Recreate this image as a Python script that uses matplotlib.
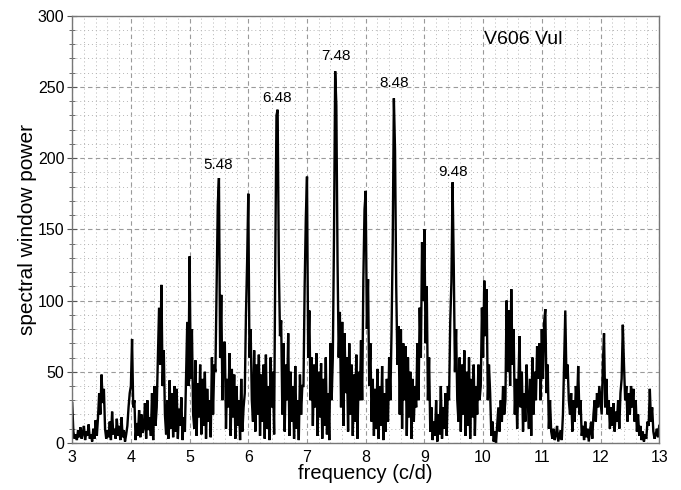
import numpy as np
import matplotlib
matplotlib.use("Agg")
import matplotlib.pyplot as plt
from matplotlib.ticker import MultipleLocator

# frequency grid start/step (c/d) and power values
freq_start = 3.0
freq_step = 0.02

power_3 = [28, 8, 3, 6, 2, 9, 4, 11, 3, 7, 12, 2, 8, 5, 13, 3, 6, 1, 10, 3,
           16, 5, 18, 35, 20, 48, 28, 38, 10, 3, 9, 4, 15, 2, 22, 6, 10, 3, 17, 5,
           12, 2, 18, 4, 9, 1, 6, 12, 25, 35]
power_4 = [40, 73, 25, 30, 2, 14, 5, 23, 4, 20, 7, 11, 28, 3, 30, 9, 18, 5, 35, 2,
           40, 12, 25, 60, 95, 55, 111, 40, 65, 20, 6, 30, 3, 44, 10, 35, 4, 40, 8, 38,
           3, 24, 12, 32, 2, 18, 8, 45, 85, 40]
power_5 = [131, 45, 80, 20, 10, 58, 5, 42, 18, 55, 6, 45, 12, 50, 3, 38, 15, 30, 4, 60,
           20, 55, 50, 110, 167, 186, 60, 104, 30, 70, 71, 10, 45, 25, 63, 5, 52, 18, 48, 3,
           40, 12, 30, 2, 45, 8, 25, 35, 90, 127]
power_6 = [175, 60, 80, 30, 15, 65, 8, 55, 20, 62, 5, 48, 15, 55, 3, 62, 10, 40, 2, 60,
           25, 50, 6, 130, 230, 234, 126, 75, 86, 20, 70, 8, 55, 30, 77, 5, 50, 15, 40, 3,
           54, 10, 30, 2, 48, 20, 40, 40, 110, 158]
power_7 = [187, 60, 93, 30, 60, 12, 55, 25, 63, 5, 50, 18, 56, 3, 45, 12, 60, 6, 35, 2,
           70, 30, 60, 145, 261, 237, 129, 60, 92, 25, 85, 12, 77, 35, 60, 8, 70, 20, 55, 5,
           48, 15, 62, 3, 50, 30, 72, 30, 115, 164]
power_8 = [177, 80, 115, 40, 70, 15, 45, 5, 38, 10, 52, 3, 40, 12, 54, 2, 35, 8, 45, 15,
           60, 30, 78, 140, 242, 205, 110, 55, 82, 20, 80, 10, 70, 30, 68, 5, 60, 18, 50, 3,
           45, 15, 40, 25, 70, 30, 95, 60, 141, 100]
power_9 = [150, 70, 110, 30, 60, 8, 25, 2, 15, 5, 30, 1, 20, 6, 40, 3, 25, 10, 35, 5,
           40, 30, 85, 113, 183, 125, 50, 80, 30, 15, 60, 8, 55, 20, 65, 5, 50, 12, 60, 3,
           45, 18, 55, 5, 40, 20, 55, 30, 40, 95]
power_10 = [60, 114, 75, 108, 30, 55, 35, 5, 15, 1, 8, 0, 12, 25, 8, 30, 15, 40, 20, 30,
            100, 50, 93, 40, 108, 55, 80, 20, 45, 10, 40, 75, 25, 50, 8, 35, 15, 55, 30, 10,
            45, 5, 60, 20, 50, 30, 68, 45, 70, 30]
power_11 = [80, 45, 85, 94, 35, 55, 10, 30, 8, 3, 10, 2, 6, 12, 1, 5, 9, 2, 20, 55,
            93, 45, 55, 30, 20, 35, 8, 30, 15, 40, 25, 54, 20, 30, 5, 12, 2, 15, 4, 10,
            1, 8, 15, 3, 20, 30, 15, 35, 25, 40]
power_12 = [30, 20, 55, 77, 25, 45, 20, 30, 10, 25, 12, 28, 8, 22, 15, 30, 10, 35, 45, 83,
            55, 30, 40, 15, 35, 20, 40, 25, 38, 15, 30, 8, 20, 5, 12, 2, 8, 1, 6, 3,
            15, 12, 38, 15, 25, 8, 3, 6, 10, 4]
power_13 = [12]

peak_labels = ["5.48", "6.48", "7.48", "8.48", "9.48"]
peak_label_x = [5.49, 6.49, 7.49, 8.49, 9.49]
peak_label_y = [195, 242, 272, 253, 190]
star_name = "V606 Vul"

power = np.array(power_3 + power_4 + power_5 + power_6 + power_7 + power_8 +
                 power_9 + power_10 + power_11 + power_12 + power_13, dtype=float)
freq = freq_start + freq_step * np.arange(len(power))

plt.rcParams['font.family'] = ['Liberation Sans', 'DejaVu Sans']

fig = plt.figure(figsize=(6.81, 4.90), dpi=100)
ax = fig.add_axes([0.106, 0.096, 0.862, 0.872])

ax.plot(freq, power, color='black', lw=1.7, solid_joinstyle='miter')

ax.set_xlim(3, 13)
ax.set_ylim(0, 300)
ax.xaxis.set_major_locator(MultipleLocator(1))
ax.xaxis.set_minor_locator(MultipleLocator(0.2))
ax.yaxis.set_major_locator(MultipleLocator(50))
ax.yaxis.set_minor_locator(MultipleLocator(10))

ax.grid(which='major', color='#9a9a9a', linestyle=(0, (4, 3)), linewidth=0.8)
ax.grid(which='minor', color='#b5b5b5', linestyle=(0, (1, 3)), linewidth=0.7)
ax.set_axisbelow(True)

for s in ax.spines.values():
    s.set_color('#777777')
    s.set_linewidth(1.0)

ax.tick_params(axis='x', which='both', length=0, labelsize=11.5, pad=5)
ax.tick_params(axis='y', which='major', direction='inout', length=7, color='#555555',
               labelsize=11.5, pad=2)
ax.tick_params(axis='y', which='minor', direction='inout', length=4, color='#555555')

ax.set_xlabel('frequency (c/d)', fontsize=14.5, labelpad=-1)
ax.set_ylabel('spectral window power', fontsize=15, labelpad=1)

for t, x, y in zip(peak_labels, peak_label_x, peak_label_y):
    ax.text(x, y, t, ha='center', va='center', fontsize=11)
ax.text(10.68, 283, star_name, ha='center', va='center', fontsize=14)

fig.savefig('out.png', dpi=100)
